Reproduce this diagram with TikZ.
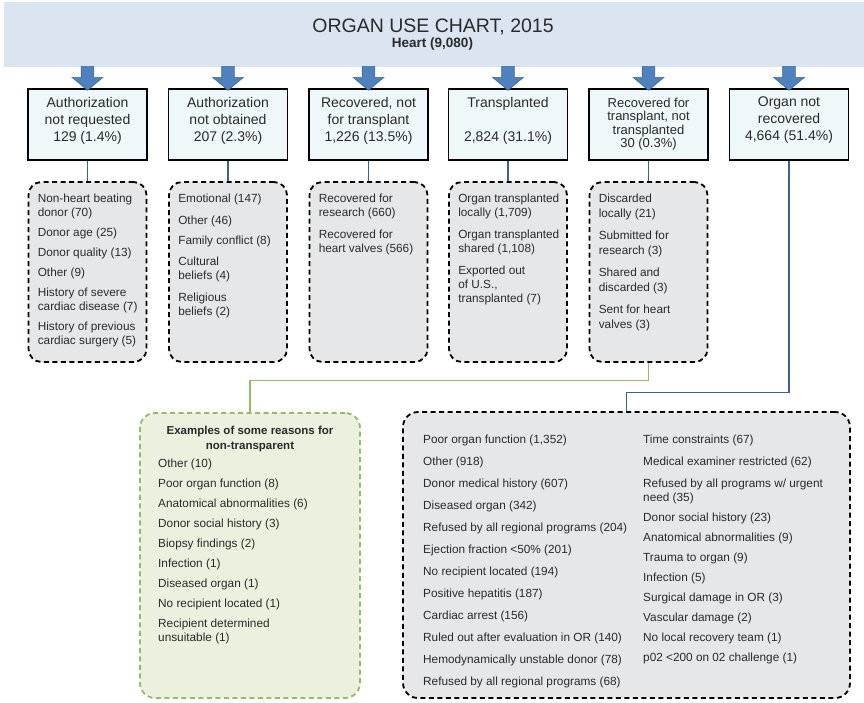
\documentclass[tikz,border=0pt]{standalone}
\usepackage{fontspec}
\setmainfont{Liberation Sans}
\usetikzlibrary{calc}
\definecolor{bandblue}{HTML}{DBE5F1}
\definecolor{boxblue}{HTML}{EEF7FA}
\definecolor{arrowblue}{HTML}{4F81BD}
\definecolor{arrowedge}{HTML}{3A6BA5}
\definecolor{linkblue}{HTML}{3C6191}
\definecolor{grayfill}{HTML}{E6E7E8}
\definecolor{greenfill}{HTML}{EBF1DE}
\definecolor{greenline}{HTML}{94BD63}
\definecolor{txt}{HTML}{2A2A2A}
\tikzset{
  band/.style={fill=bandblue, draw=none, minimum width=860pt, minimum height=65pt, inner sep=0},
  topbox/.style={draw=black, line width=1.4pt, fill=boxblue, minimum width=119pt, minimum height=71pt, inner sep=0},
  toptext/.style={anchor=north, align=center, inner sep=0, text=txt, font=\fontsize{14}{17}\selectfont},
  reasonbox/.style={draw=black, line width=1.8pt, dash pattern=on 5pt off 3.5pt, fill=grayfill, rounded corners=13pt, minimum width=118pt, minimum height=180pt, inner sep=0},
  greenbox/.style={draw=greenline, line width=1.8pt, dash pattern=on 5pt off 3.5pt, fill=greenfill, rounded corners=15pt, minimum width=220pt, minimum height=285pt, inner sep=0},
  bigbox/.style={draw=black, line width=1.8pt, dash pattern=on 5pt off 3.5pt, fill=grayfill, rounded corners=15pt, minimum width=447pt, minimum height=286pt, inner sep=0},
  reasontext/.style={anchor=north west, align=left, inner sep=0, text=txt, font=\fontsize{11.8}{14}\selectfont},
  downarrow/.style={fill=arrowblue, draw=arrowedge, line width=0.6pt},
  link/.style={draw=linkblue, line width=1.3pt},
  greenlink/.style={draw=greenline, line width=1.3pt},
}
\begin{document}
\begin{tikzpicture}[x=1pt,y=-1pt]
\useasboundingbox (0,0) rectangle (864,702);
% title band
\node[band] (band) at (434,34.5) {};
\node[anchor=base, inner sep=0, text=txt, font=\fontsize{19.5}{22}\selectfont] (title) at (433,32.3) {ORGAN USE CHART, 2015};
\node[anchor=base, inner sep=0, text=txt, font=\bfseries\fontsize{13.5}{15}\selectfont] (heart) at (432.5,47.5) {Heart (9,080)};
% top boxes
\node[topbox] (b1) at (87.5,124.5) {};
\node[topbox] (b2) at (228,124.5) {};
\node[topbox] (b3) at (368.5,124.5) {};
\node[topbox] (b4) at (508,124.5) {};
\node[topbox] (b5) at (648.5,124.5) {};
\node[topbox] (b6) at (789,124.5) {};
\node[toptext] (t1) at (87.5,97) {Authorization\\not requested\\129 (1.4\%)};
\node[toptext] (t2) at (228,97) {Authorization\\not obtained\\207 (2.3\%)};
\node[toptext] (t3) at (368.5,97) {Recovered, not\\for transplant\\1,226 (13.5\%)};
\node[toptext] (t4) at (508,97) {Transplanted\\[17pt]2,824 (31.1\%)};
\node[toptext, font=\fontsize{13}{13.5}\selectfont] (t5) at (648.5,97.4) {Recovered for\\transplant, not\\transplanted\\30 (0.3\%)};
\node[toptext] (t6) at (789,97) {Organ not\\recovered\\4,664 (51.4\%)};
% arrows
\foreach \i in {1,...,6}
  \draw[downarrow, shift={(b\i.north)}] (0,2) -- (-15.5,-11) -- (-6.3,-11) -- (-6.3,-22) -- (6.3,-22) -- (6.3,-11) -- (15.5,-11) -- cycle;
% reason boxes
\node[reasonbox] (g1) at (87.5,272) {};
\node[reasonbox] (g2) at (228,272) {};
\node[reasonbox] (g3) at (368.5,272) {};
\node[reasonbox] (g4) at (508,272) {};
\node[reasonbox] (g5) at (648.5,272) {};
\foreach \i in {1,...,5}
  \draw[link] (b\i.south) -- (g\i.north);
\node[reasontext] (r1) at ($(g1.north west)+(10,12.2)$) {Non-heart beating\\donor (70)\\[6pt]Donor age (25)\\[6pt]Donor quality (13)\\[6pt]Other (9)\\[6pt]History of severe\\cardiac disease (7)\\[6pt]History of previous\\cardiac surgery (5)};
\node[reasontext] (r2) at ($(g2.north west)+(10,12.2)$) {Emotional (147)\\[8pt]Other (46)\\[6pt]Family conflict (8)\\[7pt]Cultural\\beliefs (4)\\[8pt]Religious\\beliefs (2)};
\node[reasontext] (r3) at ($(g3.north west)+(10,12.2)$) {Recovered for\\research (660)\\[8pt]Recovered for\\heart valves (566)};
\node[reasontext] (r4) at ($(g4.north west)+(10,12.2)$) {Organ transplanted\\locally (1,709)\\[8pt]Organ transplanted\\shared (1,108)\\[8pt]Exported out\\of U.S.,\\transplanted (7)};
\node[reasontext, font=\fontsize{11.8}{15}\selectfont] (r5) at ($(g5.north west)+(10,12.2)$) {Discarded\\locally (21)\\[7pt]Submitted for\\research (3)\\[7pt]Shared and\\discarded (3)\\[7pt]Sent for heart\\valves (3)};
% green box
\node[greenbox] (gbox) at (250,555.5) {};
\draw[greenlink] (g5.south) -- ++(0,17.5) -| (gbox.north);
\node[anchor=north, align=center, inner sep=0, text=txt, font=\bfseries\fontsize{11.5}{15}\selectfont] (gtitle) at (250,426.4) {Examples of some reasons for\\non-transparent};
\node[reasontext] (gitems) at (158,459.2) {Other (10)\\[6pt]Poor organ function (8)\\[6pt]Anatomical abnormalities (6)\\[6pt]Donor social history (3)\\[6pt]Biopsy findings (2)\\[6pt]Infection (1)\\[6pt]Diseased organ (1)\\[6pt]No recipient located (1)\\[6pt]Recipient determined\\unsuitable (1)};
% big box
\node[bigbox] (rbox) at (626.5,555) {};
\draw[link] (b6.south) -- ++(0,231.7) -| (rbox.north);
\node[reasontext] (lcol) at (423,435.2) {Poor organ function (1,352)\\[8pt]Other (918)\\[8pt]Donor medical history (607)\\[8pt]Diseased organ (342)\\[8pt]Refused by all regional programs (204)\\[8pt]Ejection fraction <50\% (201)\\[8pt]No recipient located (194)\\[8pt]Positive hepatitis (187)\\[8pt]Cardiac arrest (156)\\[8pt]Ruled out after evaluation in OR (140)\\[8pt]Hemodynamically unstable donor (78)\\[8pt]Refused by all regional programs (68)};
\node[reasontext] (rcol) at (643,435.2) {Time constraints (67)\\[8pt]Medical examiner restricted (62)\\[8pt]Refused by all programs w/ urgent\\need (35)\\[6pt]Donor social history (23)\\[6pt]Anatomical abnormalities (9)\\[6pt]Trauma to organ (9)\\[6pt]Infection (5)\\[6pt]Surgical damage in OR (3)\\[6pt]Vascular damage (2)\\[6pt]No local recovery team (1)\\[6pt]p02 <200 on 02 challenge (1)};
\end{tikzpicture}
\end{document}
